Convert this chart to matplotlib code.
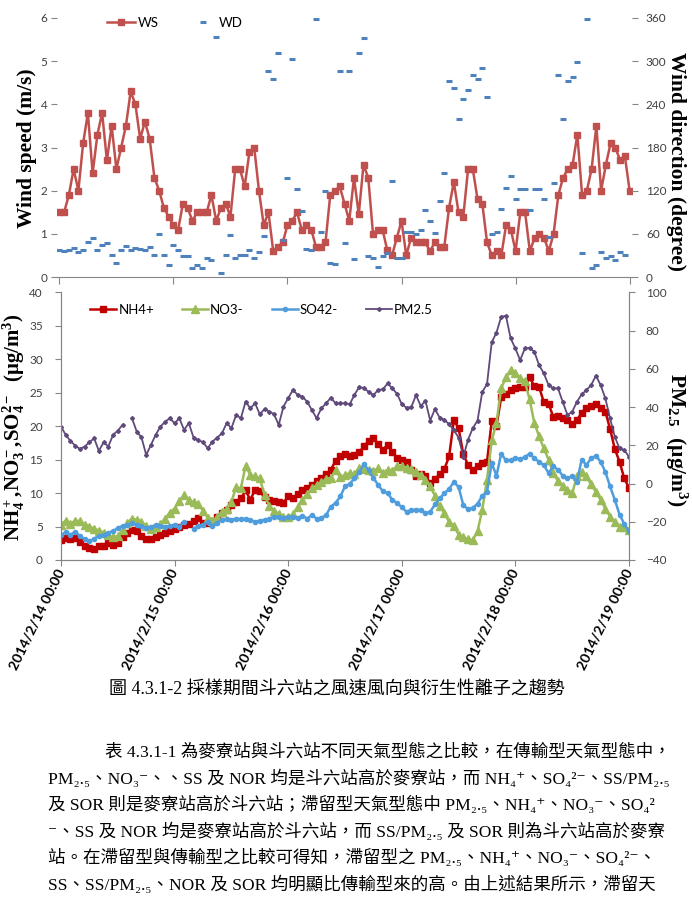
import numpy as np
import matplotlib
matplotlib.use("Agg")
import matplotlib.pyplot as plt

nan = np.nan

# hourly data, 2014/2/14 00:00 .. 2014/2/19 00:00 (121 hours)
hours = np.arange(121)
day_ticks = [0, 24, 48, 72, 96, 120]
day_labels = ["2014/2/14 00:00", "2014/2/15 00:00", "2014/2/16 00:00",
              "2014/2/17 00:00", "2014/2/18 00:00", "2014/2/19 00:00"]

ws = [1.5, 1.5, 1.9, 2.5, 2.0, 3.1, 3.8, 2.4, 3.3, 3.8,
      2.7, 3.5, 2.5, 3.0, 3.5, 4.3, 4.0, 3.2, 3.6, 3.2,
      2.3, 2.0, 1.6, 1.4, 1.2, 1.1, 1.7, 1.6, 1.3, 1.5,
      1.5, 1.5, 1.9, 1.3, 1.6, 1.7, 1.4, 2.5, 2.5, 2.1,
      2.9, 3.0, 2.0, 1.2, 1.5, 0.6, 0.7, 0.8, 1.2, 1.3,
      1.5, 1.1, 1.2, 1.1, 0.7, 0.7, 0.8, 1.9, 2.0, 2.1,
      1.7, 1.3, 2.3, 1.45, 2.6, 2.3, 1.0, 1.1, 1.1, 0.62,
      0.5, 0.9, 1.3, 0.5, 0.9, 0.8, 0.8, 0.8, 0.6, 0.8,
      0.7, 0.7, 1.6, 2.2, 1.5, 1.4, 2.5, 2.5, 1.8, 1.7,
      0.8, 0.5, 0.6, 0.5, 1.2, 1.1, 0.6, 1.5, 1.5, 0.6,
      0.9, 1.0, 0.9, 0.6, 1.0, 1.9, 2.3, 2.5, 2.6, 3.3,
      1.9, 2.0, 2.5, 3.5, 2.0, 2.6, 3.1, 3.0, 2.7, 2.8,
      2.0]

wd = [37.5, 36.6, 37.5, 41, 35, 38, 48, 54, 37.5, 45,
      47, 31, 20, 37.5, 43, 38, 40, 39, 37.5, 42,
      30, 60, 30, 17, 44, 38, 29, 29, 12, 17,
      13, 26, 24, 333, 5, 30, 59, 26, 30, 31,
      37.5, 27, 35, 57, 286, 275, 311, 51, 137, 303,
      122, 92, 39, 37, 359, 62, 120, 20, 18, 287,
      47, 287, 25, 312, 332, 29, 27, 14, 29, 33,
      134, 26, 27, 62, 62, 60, 65, 93, 78, 61,
      106, 144, 273, 263, 220, 247, 260, 281, 275, 290,
      250, 60, 62, 94, 124, 141, 109, 122, 123, 93,
      123, 123, 108, 56, 131, 281, 219, 272, 278, 299,
      33, 358, 13, 17, 35, 26, 29, 24, 35, 30,
      nan]

nh4 = [3.0, 3.3, 3.1, 3.3, 2.7, 2.1, 1.75, 1.7, 2.1, 2.1,
       2.6, 2.2, 2.6, 3.4, 4.1, 4.5, 4.3, 3.6, 3.2, 3.1,
       3.5, 3.8, 4.1, 4.4, 4.6, 5.0, 5.3, 5.4, 5.8, 6.3,
       5.5, 5.6, 5.9, 6.4, 7.0, 7.5, 8.2, 8.7, 9.2, 10.4,
       9.0, 10.5, 10.3, 9.4, 9.0, 8.8, 8.7, 8.5, 9.6, 9.2,
       9.8, 10.5, 10.8, 11.2, 11.8, 12.3, 12.8, 13.5, 14.8, 15.6,
       15.8, 15.5, 15.7, 16.1, 17.0, 17.8, 18.2, 17.3, 16.5, 17.2,
       16.1, 15.2, 15.0, 14.7, 13.5, 12.6, 12.8, 12.5, 11.5, 12.1,
       12.8, 13.6, 15.5, 20.9, 19.7, 15.8, 14.2, 13.5, 14.0, 14.5,
       14.7, 20.8, 20.1, 24.3, 24.8, 25.4, 25.7, 25.9, 25.8, 27.3,
       26.0, 25.9, 23.6, 23.4, 21.4, 21.6, 21.3, 20.9, 20.3, 20.9,
       22.0, 22.8, 23.1, 23.3, 22.7, 22.2, 19.6, 16.6, 14.7, 12.2,
       10.8]

no3 = [5.3, 5.9, 5.4, 5.9, 5.8, 5.3, 5.0, 4.7, 4.4, 4.1,
       3.7, 3.4, 3.6, 4.5, 5.6, 6.2, 6.0, 5.7, 5.1, 4.6,
       4.9, 5.4, 6.2, 7.1, 7.7, 8.8, 9.7, 9.0, 8.6, 8.3,
       7.4, 6.3, 5.8, 6.5, 7.2, 7.7, 8.7, 10.9, 10.7, 14.1,
       12.7, 12.5, 12.2, 9.7, 8.1, 7.4, 6.9, 6.5, 6.4, 6.9,
       7.9, 8.9, 9.9, 10.7, 11.2, 11.6, 12.1, 12.3, 13.4, 12.4,
       12.7, 13.0, 12.8, 13.8, 13.6, 13.4, 13.3, 13.7, 13.0, 13.5,
       13.3, 14.1, 14.0, 13.7, 13.6, 13.2, 12.7, 12.0, 11.0, 9.6,
       8.1, 7.0, 5.7, 5.1, 3.8, 3.4, 3.1, 3.0, 4.3, 7.5,
       12.0, 17.9, 20.5, 25.7, 27.3, 28.4, 27.9, 27.2, 26.7, 24.0,
       20.5, 18.5, 16.7, 15.0, 13.0, 11.8, 11.0, 10.5, 10.0, 12.5,
       13.2, 12.5, 11.3, 10.2, 9.0, 7.7, 6.5, 5.7, 5.0, 5.0,
       4.5]

so4 = [3.7, 4.2, 3.8, 4.2, 3.6, 3.1, 2.8, 3.2, 3.6, 3.8,
       4.1, 4.3, 4.8, 5.1, 5.2, 5.5, 5.3, 5.1, 4.8, 5.0,
       5.2, 5.1, 5.0, 5.1, 5.3, 5.0, 5.7, nan, 4.7, 5.1,
       5.3, 5.7, 5.1, 5.6, 6.0, 6.1, 6.0, 6.2, 6.1, 6.2,
       6.0, 5.7, 5.9, 6.0, 6.2, 6.5, 6.4, 6.3, 6.4, 6.5,
       6.3, 6.6, 6.2, 6.7, 6.2, 6.3, 6.7, 8.0, 8.5, 9.5,
       11.0, 11.4, 12.2, 13.1, 14.4, 13.4, 12.3, 11.2, 10.3, 10.0,
       9.0, 8.5, 7.9, 7.2, 7.5, 7.5, 7.5, 7.0, 7.2, 8.3,
       9.2, 10.0, 10.6, 11.7, 10.9, 8.2, 7.6, 7.8, 8.4, 9.6,
       10.2, 14.5, 12.6, 15.9, 14.9, 14.9, 15.3, 15.1, 15.4, 15.9,
       15.2, 14.7, 14.2, 13.0, 14.0, 13.5, 12.6, 12.3, 12.5, 11.7,
       15.0, 14.2, 15.2, 15.6, 14.7, 13.2, 11.0, 9.0, 6.8, 5.4,
       4.3]

pm25 = [29.8, 25.5, 22.3, 19.9, 18.1, 19.4, 21.6, 23.7, 17.1, 21.6,
        19.4, 25.5, 27.7, 30.7, nan, 34.2, 27.2, 24.2, 15.0, 20.2,
        25.5, 29.8, 32.4, 34.2, 31.6, 34.2, 28.1, 31.6, 24.1, 22.8,
        21.6, 18.5, 22.0, 24.1, 26.3, 31.6, 29.0, 35.9, 34.2, 42.9,
        39.4, 42.0, 36.3, 39.0, 37.7, 36.3, 30.7, 40.3, 44.7, 49.0,
        46.4, 45.5, 42.9, 38.5, 34.2, 39.4, 42.0, 45.0, 42.0, 42.0,
        42.0, 41.5, 46.5, 50.5, 50.0, 48.0, 46.3, 49.0, 49.3, 52.4,
        49.8, 47.0, 41.5, 39.7, 40.0, 46.3, 40.6, 43.3, 33.0, 39.0,
        34.5, 33.4, 31.0, 28.0, 24.0, 14.0, 23.0, 29.0, 33.0, 48.0,
        52.0, 74.0, 79.0, 87.3, 87.8, 76.0, 70.7, 64.6, 70.7, 71.0,
        69.0, 62.0, 57.7, 51.6, 49.8, 49.8, 42.8, 35.9, 37.6, 42.8,
        46.7, 48.9, 51.5, 56.5, 51.6, 44.6, 34.1, 24.5, 18.4, 17.5,
        14.0]

caption = "圖 4.3.1-2 採樣期間斗六站之風速風向與衍生性離子之趨勢"
para_lines = [
    "表 4.3.1-1 為麥寮站與斗六站不同天氣型態之比較，在傳輸型天氣型態中，",
    "PM₂.₅、NO₃⁻、、SS 及 NOR 均是斗六站高於麥寮站，而 NH₄⁺、SO₄²⁻、SS/PM₂.₅",
    "及 SOR 則是麥寮站高於斗六站；滯留型天氣型態中 PM₂.₅、NH₄⁺、NO₃⁻、SO₄²",
    "⁻、SS 及 NOR 均是麥寮站高於斗六站，而 SS/PM₂.₅ 及 SOR 則為斗六站高於麥寮",
    "站。在滯留型與傳輸型之比較可得知，滯留型之 PM₂.₅、NH₄⁺、NO₃⁻、SO₄²⁻、",
    "SS、SS/PM₂.₅、NOR 及 SOR 均明顯比傳輸型來的高。由上述結果所示，滯留天",
]

plt.rcParams["font.family"] = ["Lato", "DejaVu Sans"]
plt.rcParams["mathtext.fontset"] = "custom"
plt.rcParams["mathtext.rm"] = "Liberation Serif:bold"
plt.rcParams["mathtext.it"] = "Liberation Serif:bold:italic"
plt.rcParams["mathtext.bf"] = "Liberation Serif:bold"

W, H = 692, 906
fig = plt.figure(figsize=(W / 100, H / 100), dpi=100)


def box(l, t, r, b):
    return [l / W, 1 - b / H, (r - l) / W, (b - t) / H]


grey = "#868686"
tick_col = "#404040"
serif_bold = dict(family=["Liberation Serif", "DejaVu Serif"], weight="bold")

# ---------------- top: wind speed / direction ----------------
ax1 = fig.add_axes(box(57, 18, 632, 277))
ax1b = ax1.twinx()
l_ws, = ax1.plot(hours, ws, color="#C0504D", lw=1.8, marker="s", ms=4.2,
                 mec="#C0504D", zorder=3)
l_wd, = ax1b.plot(hours, wd, ls="none", marker="_", ms=4.5, mew=2.2,
                  color="#4F81BD")
ax1.set_xlim(-0.5, 120.5)
ax1.set_ylim(0, 6)
ax1b.set_ylim(0, 360)
ax1.set_yticks(range(0, 7))
ax1b.set_yticks(range(0, 361, 60))
ax1.set_xticks(day_ticks)
ax1.set_xticklabels([])
for a in (ax1, ax1b):
    for s in a.spines.values():
        s.set_visible(False)
ax1.spines["bottom"].set_visible(True)
ax1.spines["bottom"].set_color(grey)
ax1.tick_params(axis="x", direction="out", length=5, color=grey)
ax1.tick_params(axis="y", direction="out", length=4, color=grey, pad=3,
                labelsize=8.5, labelcolor=tick_col)
ax1b.tick_params(axis="y", direction="out", length=4, color=grey, pad=6,
                 labelsize=8.5, labelcolor=tick_col)
ax1b.legend([l_ws, l_wd], ["WS", "WD"], loc="center left",
            bbox_to_anchor=(107 / W, 1 - 23 / H), bbox_transform=fig.transFigure,
            ncol=2, frameon=False, fontsize=9.5, handlelength=2.1,
            handletextpad=0.2, columnspacing=2.3, borderpad=0, borderaxespad=0)
fig.text(27 / W, 1 - 148 / H, "Wind speed (m/s)", rotation=90, ha="center",
         va="center", fontsize=15.5, **serif_bold)
fig.text(676 / W, 1 - 161 / H, "Wind direction (degree)", rotation=270,
         ha="center", va="center", fontsize=15.5, **serif_bold)

# ---------------- bottom: ions and PM2.5 ----------------
ax2 = fig.add_axes(box(61, 292.5, 629, 560))
ax2b = ax2.twinx()
l_nh4, = ax2.plot(hours, nh4, color="#C00000", lw=1.8, marker="s", ms=4,
                  zorder=3)
l_no3, = ax2.plot(hours, no3, color="#9BBB59", lw=1.8, marker="^", ms=5.5,
                  zorder=4)
l_so4, = ax2.plot(hours, so4, color="#4F9DDC", lw=1.8, marker="o", ms=3,
                  zorder=5)
l_pm, = ax2b.plot(hours, pm25, color="#604A7B", lw=1.3, marker="D", ms=2)
ax2.set_xlim(0, 120)
ax2.set_ylim(0, 40)
ax2b.set_ylim(-40, 100)
ax2.set_yticks(range(0, 41, 5))
ax2b.set_yticks(range(-40, 101, 20))
ax2.set_xticks(day_ticks)
ax2.set_xticklabels(day_labels, rotation=64, ha="right", va="center",
                    rotation_mode="anchor", fontsize=10.2, fontweight="bold",
                    color="black")
for a in (ax2, ax2b):
    a.spines["top"].set_visible(False)
    for k in ("left", "right", "bottom"):
        a.spines[k].set_color(grey)
ax2.tick_params(axis="x", direction="out", length=4, color=grey, pad=3)
ax2.tick_params(axis="y", direction="out", length=4, color=grey, pad=9,
                labelsize=8.5, labelcolor=tick_col)
ax2b.tick_params(axis="y", direction="out", length=4, color=grey, pad=8,
                 labelsize=8.5, labelcolor=tick_col)
ax2b.legend([l_nh4, l_no3, l_so4, l_pm], ["NH4+", "NO3-", "SO42-", "PM2.5"],
            loc="center left", bbox_to_anchor=(90 / W, 1 - 310 / H),
            bbox_transform=fig.transFigure, ncol=4, frameon=False,
            fontsize=9.5, handlelength=2.0, handletextpad=0.15,
            columnspacing=2.1, borderpad=0, borderaxespad=0)
fig.text(14 / W, 1 - 427 / H,
         "NH$_4^+$,NO$_3^-$,SO$_4^{2-}$  (μg/m$^3$)", rotation=90,
         ha="center", va="center", fontsize=15, **serif_bold)
fig.text(676 / W, 1 - 440 / H, "PM$_{2.5}$  (μg/m$^3$)", rotation=270,
         ha="center", va="center", fontsize=15.5, **serif_bold)

# ---------------- caption and body text ----------------
text_font = ["Liberation Serif", "DejaVu Serif", "Noto Sans CJK TC"]
fig.text(337 / W, 1 - 690 / H, caption, ha="center", va="center",
         fontsize=13, family=text_font)
para_x = [105, 48, 48, 48, 48, 48]
for i, line in enumerate(para_lines):
    fig.text(para_x[i] / W, 1 - (752 + 26.6 * i) / H, line, ha="left",
             va="center", fontsize=12.6, family=text_font)

fig.savefig("out.png", dpi=100)
